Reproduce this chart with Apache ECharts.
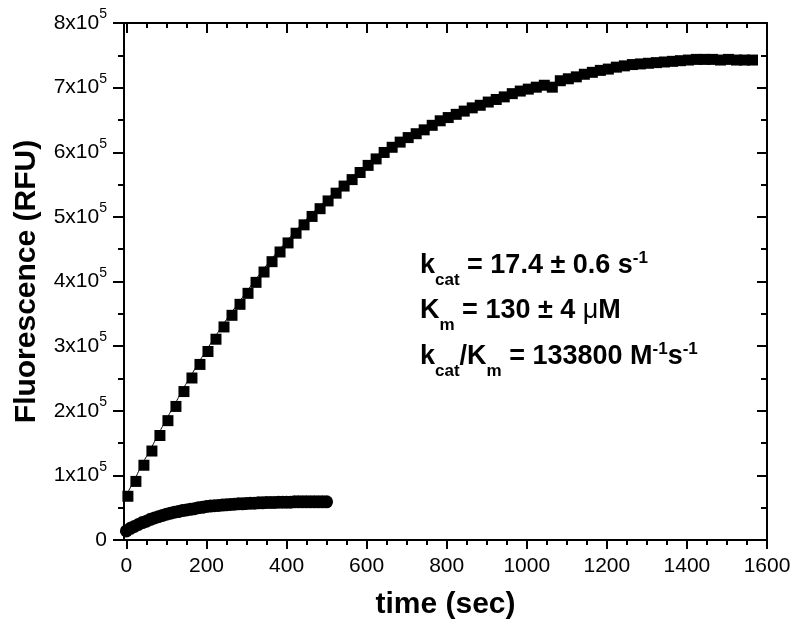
<!DOCTYPE html>
<html>
<head>
<meta charset="utf-8">
<script src="https://cdn.jsdelivr.net/npm/echarts@6/dist/echarts.min.js"></script>
<style>html,body{margin:0;padding:0;background:#fff}#c{width:800px;height:630px}</style>
</head>
<body>
<div id="c"></div>
<script>
// ---- data ----
var upperT = [0,20,40,60,80,100,120,140,160,180,200,220,240,260,280,300,320,340,360,380,400,420,440,460,480,500,520,540,560,580,600,620,640,660,680,700,720,740,760,780,800,820,840,860,880,900,920,940,960,980,1000,1020,1040,1060,1080,1100,1120,1140,1160,1180,1200,1220,1240,1260,1280,1300,1320,1340,1360,1380,1400,1420,1440,1460,1480,1500,1520,1540,1560];
var upperV = [70000,93000,118000,140000,164000,187000,209000,232000,253000,274000,294000,313000,332000,350000,367000,384000,401000,417000,433000,448000,462000,477000,490000,503000,515000,527000,539000,550000,560000,571000,582000,592000,602000,610000,618000,625000,631000,637000,644000,651000,656000,661000,666000,671000,675000,680000,684000,688000,693000,697000,700000,703000,706000,703000,713000,716000,719000,723000,726000,729000,731000,734000,736000,738000,739000,740000,741000,742000,743000,744000,745000,746000,746000,746000,745000,746000,745000,745000,745000];
var lowerT = [0,10,20,30,40,50,60,70,80,90,100,110,120,130,140,150,160,170,180,190,200,210,220,230,240,250,260,270,280,290,300,310,320,330,340,350,360,370,380,390,400,410,420,430,440,450,460,470,480,490,500];
var lowerV = [14000,18000,21000,24000,27000,29000,32000,34000,36000,38000,40000,41500,43000,44000,45500,46500,47500,48500,50000,50500,52000,52500,53000,53500,54000,54500,55000,55500,56000,56000,56500,57000,57000,57500,57500,58000,58000,58000,58500,58500,58500,58500,59000,59000,59000,59000,59000,59000,59000,59000,59000];
var xMajor = [0,200,400,600,800,1000,1200,1400,1600];
var xMinor = [0,50,100,150,200,250,300,350,400,450,500,550,600,650,700,750,800,850,900,950,1000,1050,1100,1150,1200,1250,1300,1350,1400,1450,1500,1550,1600];
var xTitle = 'time (sec)';
var yTitle = 'Fluorescence (RFU)';
var annot = [
  '{b|k}{sub|cat}{b| = 17.4 ± 0.6 s}{sup|-1}',
  '{b|K}{sub|m}{b| = 130 ± 4 }{mu|μ}{b|M}',
  '{b|k}{sub|cat}{b|/K}{sub|m}{b| = 133800 M}{sup|-1}{b|s}{sup|-1}'
];

function pairs(t, v) { return t.map(function (x, i) { return [x, v[i]]; }); }

var FONT = 'Liberation Sans, Arial, sans-serif';
var grid = { left: 124, right: 33, top: 23, bottom: 90 };
var lineSt = { color: '#000', width: 2 };

var richText = {
  b: { fontSize: 27, fontWeight: 'bold', fontFamily: FONT, fill: '#000', lineHeight: 30 },
  mu: { fontSize: 27, fontWeight: 'normal', fontFamily: FONT, fill: '#000', lineHeight: 30 },
  sub: { fontSize: 17, fontWeight: 'bold', fontFamily: FONT, fill: '#000', lineHeight: 20, padding: [29, 0, 0, 0] },
  sup: { fontSize: 17, fontWeight: 'bold', fontFamily: FONT, fill: '#000', lineHeight: 20, padding: [0, 0, 14, 0] }
};
var annotY = [265.5, 310.5, 356.5];

var chart = echarts.init(document.getElementById('c'), null, { renderer: 'canvas' });
chart.setOption({
  backgroundColor: '#fff',
  animation: false,
  textStyle: { fontFamily: FONT },
  grid: [grid, grid],
  xAxis: [
    { gridIndex: 0, type: 'value', position: 'bottom', min: -6, max: 1600,
      axisLine: { show: true, onZero: false, lineStyle: lineSt },
      axisTick: { show: true, customValues: xMajor, length: 9, inside: false, lineStyle: lineSt },
      axisLabel: { show: true, customValues: xMajor, fontSize: 21, color: '#000', margin: 16, fontFamily: FONT,
        formatter: function (v) { return String(v); } },
      splitLine: { show: false },
      name: xTitle, nameLocation: 'middle', nameGap: 50,
      nameTextStyle: { fontSize: 30, fontWeight: 'bold', color: '#000', fontFamily: FONT } },
    { gridIndex: 0, type: 'value', position: 'top', min: -6, max: 1600,
      axisLine: { show: true, onZero: false, lineStyle: lineSt },
      axisTick: { show: true, customValues: xMajor, length: 10, inside: true, lineStyle: lineSt },
      axisLabel: { show: false }, splitLine: { show: false } },
    { gridIndex: 1, type: 'value', position: 'bottom', min: -6, max: 1600,
      axisLine: { show: false },
      axisTick: { show: true, customValues: xMinor, length: 5, inside: false, lineStyle: lineSt },
      axisLabel: { show: false }, splitLine: { show: false } },
    { gridIndex: 1, type: 'value', position: 'top', min: -6, max: 1600,
      axisLine: { show: false },
      axisTick: { show: true, customValues: xMinor, length: 5, inside: true, lineStyle: lineSt },
      axisLabel: { show: false }, splitLine: { show: false } }
  ],
  yAxis: [
    { gridIndex: 0, type: 'value', position: 'left', min: 0, max: 800000, interval: 100000,
      axisLine: { show: true, onZero: false, lineStyle: lineSt },
      axisTick: { show: true, length: 11, inside: false, lineStyle: lineSt },
      minorTick: { show: true, splitNumber: 2, length: 6, lineStyle: lineSt },
      axisLabel: { show: true, margin: 17, color: '#000', fontSize: 21, fontFamily: FONT,
        formatter: function (v) { return v === 0 ? '0' : '{a|' + Math.round(v / 100000) + 'x10}{s|5}'; },
        rich: {
          a: { fontSize: 21, fontFamily: FONT, color: '#000', lineHeight: 22 },
          s: { fontSize: 14, fontFamily: FONT, color: '#000', lineHeight: 14, padding: [0, 0, 17, 0] }
        } },
      splitLine: { show: false },
      name: yTitle, nameLocation: 'middle', nameGap: 82,
      nameTextStyle: { fontSize: 30, fontWeight: 'bold', color: '#000', fontFamily: FONT } },
    { gridIndex: 0, type: 'value', position: 'right', min: 0, max: 800000, interval: 100000,
      axisLine: { show: true, onZero: false, lineStyle: lineSt },
      axisTick: { show: true, length: 10, inside: true, lineStyle: lineSt },
      minorTick: { show: true, splitNumber: 2, length: 6, lineStyle: lineSt },
      axisLabel: { show: false }, splitLine: { show: false } },
    { gridIndex: 1, type: 'value', min: 0, max: 800000, show: false }
  ],
  series: [
    { type: 'line', xAxisIndex: 0, yAxisIndex: 0, data: pairs(upperT, upperV),
      showSymbol: false, smooth: true, lineStyle: { color: '#000', width: 1 }, z: 2 },
    { type: 'scatter', xAxisIndex: 0, yAxisIndex: 0, data: pairs(upperT, upperV),
      symbol: 'rect', symbolSize: 11, symbolOffset: [1.5, 1.5], itemStyle: { color: '#000', opacity: 1 }, z: 3 },
    { type: 'scatter', xAxisIndex: 0, yAxisIndex: 0, data: pairs(lowerT, lowerV),
      symbol: 'circle', symbolSize: 13, itemStyle: { color: '#000', opacity: 1 }, z: 3 }
  ],
  graphic: annot.map(function (t, i) {
    return { type: 'text', x: 420, y: annotY[i], z: 10,
      style: { text: t, rich: richText, align: 'left', verticalAlign: 'middle', fill: '#000' } };
  })
});
</script>
</body>
</html>
